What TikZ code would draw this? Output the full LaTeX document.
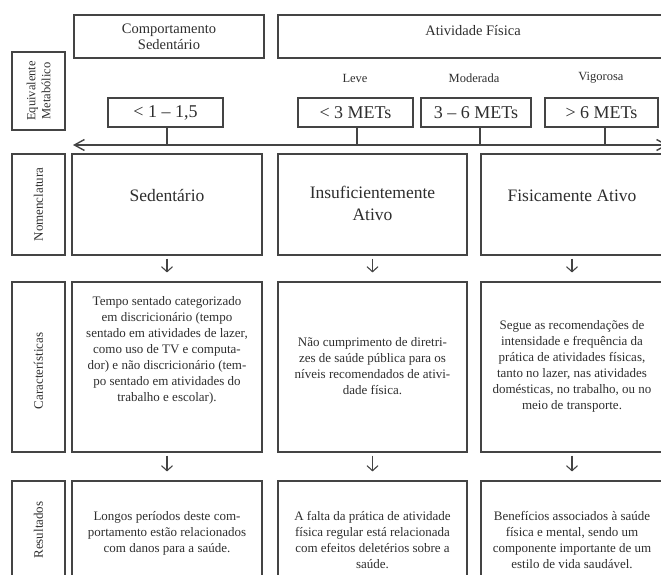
\documentclass[tikz,border=0pt]{standalone}
\usepackage{fontspec}
\setmainfont{Liberation Serif}
\usetikzlibrary{arrows.meta}
\definecolor{ln}{HTML}{444444}
\definecolor{tx}{HTML}{2E2E2E}
\begin{document}
\begin{tikzpicture}[x=1pt,y=-1pt,
  box/.style={draw=ln, line width=1.1pt, rectangle, inner sep=0pt},
  txt/.style={text=tx, inner sep=0pt, align=center},
  small/.style={txt, font=\fontsize{12.5}{15}\selectfont},
  body/.style={txt, font=\fontsize{13}{16}\selectfont},
  head/.style={txt, font=\fontsize{14.5}{16.5}\selectfont},
  big/.style={txt, font=\fontsize{17.5}{22}\selectfont},
  met/.style={txt, font=\fontsize{18}{20}\selectfont},
  side/.style={txt, rotate=90, font=\fontsize{13}{15}\selectfont},
  conn/.style={draw=ln, line width=1.1pt},
  arr/.style={conn, -{Straight Barb[length=5pt,width=11pt]}},
  axis/.style={conn, line width=1.4pt, {Straight Barb[length=10pt,width=11pt]}-{Straight Barb[length=10pt,width=11pt]}}
]
\useasboundingbox (0,0) rectangle (661,575);
\clip (0,0) rectangle (661,575);

% top header boxes
\node[box, minimum width=190pt, minimum height=43pt] (comp) at (169,36.5) {};
\node[head] (compt) at (169,37) {Comportamento\\Sedentário};
\node[box, minimum width=390pt, minimum height=43pt] (ativ) at (473,36.5) {};
\node[head] (ativt) at (473,31) {Atividade Física};

% side label boxes
\node[box, minimum width=53pt, minimum height=78pt] (eq) at (38.5,91) {};
\node[side, font=\fontsize{12.5}{15}\selectfont] (eqt) at (38.5,91) {Equivalente\\Metabólico};
\node[box, minimum width=53pt, minimum height=101pt] (nom) at (38.5,204.5) {};
\node[side] (nomt) at (38.5,204.5) {Nomenclatura};
\node[box, minimum width=53pt, minimum height=170pt] (car) at (38.5,367) {};
\node[side] (cart) at (38.5,371) {Características};
\node[box, minimum width=53pt, minimum height=130pt] (res) at (38.5,546) {};
\node[side] (rest) at (38.5,530) {Resultados};

% intensity labels
\node[small] (leve) at (355,78) {Leve};
\node[small] (mod) at (474,78) {Moderada};
\node[small] (vig) at (601,78) {Vigorosa};

% MET boxes
\node[box, minimum width=115pt, minimum height=29pt, met] (m1) at (165.5,112.5) {< 1 – 1,5};
\node[box, minimum width=115pt, minimum height=29pt, met] (m2) at (355.5,112.5) {< 3 METs};
\node[box, minimum width=110pt, minimum height=29pt, met] (m3) at (476,112.5) {3 – 6 METs};
\node[box, minimum width=113pt, minimum height=29pt, met] (m4) at (601.5,112.5) {> 6 METs};

% axis
\coordinate (axL) at (73,145);
\coordinate (axR) at (668,145);
\draw[axis] (axL) -- (axR);
\draw[conn] ([xshift=1.5pt]m1.south) -- ([xshift=1.5pt]m1.south |- axL);
\draw[conn] ([xshift=1.5pt]m2.south) -- ([xshift=1.5pt]m2.south |- axL);
\draw[conn] ([xshift=4pt]m3.south) -- ([xshift=4pt]m3.south |- axL);
\draw[conn] ([xshift=3.5pt]m4.south) -- ([xshift=3.5pt]m4.south |- axL);

% nomenclature row
\node[box, minimum width=190pt, minimum height=101pt] (n1) at (167,204.5) {};
\node[big] (n1t) at (167,196) {Sedentário};
\node[box, minimum width=189pt, minimum height=101pt] (n2) at (372.5,204.5) {};
\node[big] (n2t) at (372.5,203) {Insuficientemente\\Ativo};
\node[box, minimum width=182pt, minimum height=101pt] (n3) at (572,204.5) {};
\node[big] (n3t) at (572,196) {Fisicamente Ativo};

% characteristics row
\node[box, minimum width=190pt, minimum height=170pt] (c1) at (167,367) {};
\node[body] (c1t) at (167,350) {Tempo sentado categorizado\\em discricionário (tempo\\sentado em atividades de lazer,\\como uso de TV e computa-\\dor) e não discricionário (tem-\\po sentado em atividades do\\trabalho e escolar).};
\node[box, minimum width=189pt, minimum height=170pt] (c2) at (372.5,367) {};
\node[body] (c2t) at (372.5,366) {Não cumprimento de diretri-\\zes de saúde pública para os\\níveis recomendados de ativi-\\dade física.};
\node[box, minimum width=182pt, minimum height=170pt] (c3) at (572,367) {};
\node[body] (c3t) at (572,366) {Segue as recomendações de\\intensidade e frequência da\\prática de atividades físicas,\\tanto no lazer, nas atividades\\domésticas, no trabalho, ou no\\meio de transporte.};

% results row
\node[box, minimum width=190pt, minimum height=130pt] (r1) at (167,546) {};
\node[body, anchor=north] (r1t) at (167,511) {Longos períodos deste com-\\portamento estão relacionados\\com danos para a saúde.};
\node[box, minimum width=189pt, minimum height=130pt] (r2) at (372.5,546) {};
\node[body, anchor=north] (r2t) at (372.5,511) {A falta da prática de atividade\\física regular está relacionada\\com efeitos deletérios sobre a\\saúde.};
\node[box, minimum width=182pt, minimum height=130pt] (r3) at (572,546) {};
\node[body, anchor=north] (r3t) at (572,511) {Benefícios associados à saúde\\física e mental, sendo um\\componente importante de um\\estilo de vida saudável.};

% arrows
\draw[arr] ([yshift=-3pt]n1.south) -- ([yshift=9pt]c1.north);
\draw[arr] ([yshift=-3pt]n2.south) -- ([yshift=9pt]c2.north);
\draw[arr] ([yshift=-3pt]n3.south) -- ([yshift=9pt]c3.north);
\draw[arr] ([yshift=-3pt]c1.south) -- ([yshift=9pt]r1.north);
\draw[arr] ([yshift=-3pt]c2.south) -- ([yshift=9pt]r2.north);
\draw[arr] ([yshift=-3pt]c3.south) -- ([yshift=9pt]r3.north);
\end{tikzpicture}
\end{document}
